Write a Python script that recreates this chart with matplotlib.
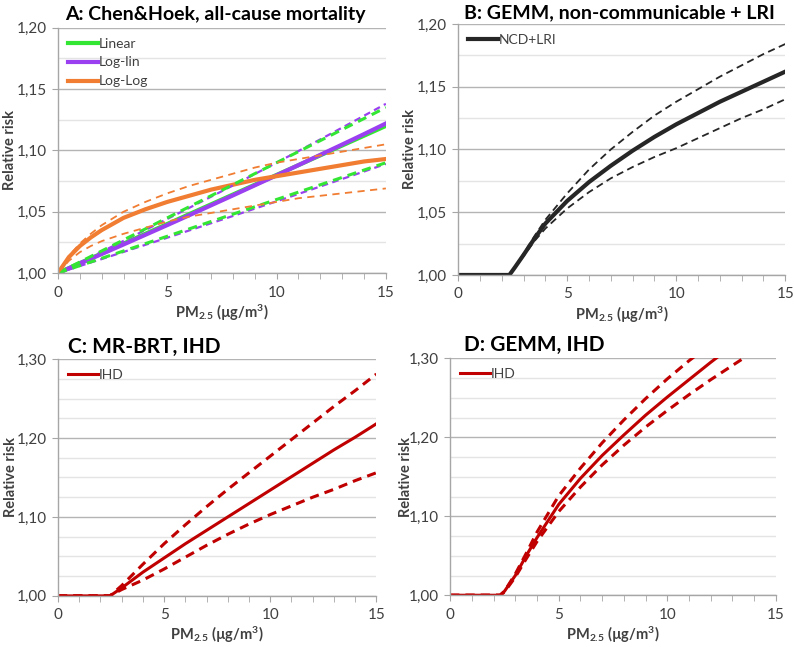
import matplotlib
matplotlib.use("Agg")
import matplotlib.pyplot as plt
import matplotlib.ticker as mticker

plt.rcParams["font.family"] = ["Lato", "DejaVu Sans"]
plt.rcParams["mathtext.fontset"] = "custom"
plt.rcParams["mathtext.rm"] = "Lato:bold"
plt.rcParams["mathtext.default"] = "rm"

# ── Panel A: Chen & Hoek, all-cause mortality ──
x_a = [0, 0.5, 1, 1.5, 2, 3, 4, 5, 6, 7, 8, 9, 10, 11, 12, 13, 14, 15]
linear = [1.000, 1.004, 1.008, 1.012, 1.016, 1.024, 1.032, 1.040, 1.048, 1.056,
          1.064, 1.072, 1.080, 1.088, 1.096, 1.104, 1.112, 1.120]
linear_hi = [1.000, 1.0045, 1.009, 1.0135, 1.018, 1.027, 1.036, 1.045, 1.054, 1.063,
             1.072, 1.081, 1.090, 1.099, 1.108, 1.117, 1.126, 1.135]
linear_lo = [1.000, 1.003, 1.006, 1.009, 1.012, 1.018, 1.024, 1.030, 1.036, 1.042,
             1.048, 1.054, 1.060, 1.066, 1.072, 1.078, 1.084, 1.090]
loglin = [1.000, 1.0038, 1.0077, 1.0116, 1.0155, 1.0233, 1.0312, 1.0391, 1.0471, 1.0552,
          1.0633, 1.0715, 1.0797, 1.0880, 1.0964, 1.1048, 1.1133, 1.122]
loglin_hi = [1.000, 1.0043, 1.0087, 1.0130, 1.0174, 1.0262, 1.0351, 1.0441, 1.0531, 1.0622,
             1.0714, 1.0807, 1.0900, 1.0995, 1.1090, 1.1186, 1.1283, 1.138]
loglin_lo = [1.000, 1.0028, 1.0057, 1.0086, 1.0114, 1.0172, 1.0230, 1.0288, 1.0347, 1.0406,
             1.0465, 1.0525, 1.0585, 1.0645, 1.0706, 1.0767, 1.0828, 1.089]
loglog = [1.000, 1.013, 1.022, 1.029, 1.035, 1.045, 1.052, 1.058, 1.063, 1.068,
          1.072, 1.076, 1.079, 1.082, 1.085, 1.088, 1.091, 1.093]
loglog_hi = [1.000, 1.014, 1.024, 1.032, 1.039, 1.050, 1.058, 1.065, 1.071, 1.076,
             1.081, 1.086, 1.090, 1.093, 1.096, 1.099, 1.102, 1.105]
loglog_lo = [1.000, 1.010, 1.017, 1.022, 1.026, 1.032, 1.037, 1.042, 1.046, 1.049,
             1.052, 1.055, 1.058, 1.061, 1.063, 1.065, 1.067, 1.069]

# ── Panel B: GEMM, NCD + LRI ──
x_b = [0, 1, 2, 2.35, 2.6, 3, 3.5, 4, 5, 6, 7, 8, 9, 10, 11, 12, 13, 14, 15]
ncd = [1.000, 1.000, 1.000, 1.000, 1.006, 1.016, 1.029, 1.041, 1.059, 1.074,
       1.087, 1.099, 1.110, 1.120, 1.129, 1.138, 1.146, 1.154, 1.162]
ncd_hi = [1.000, 1.000, 1.000, 1.000, 1.006, 1.017, 1.031, 1.044, 1.065, 1.084,
          1.100, 1.114, 1.127, 1.138, 1.148, 1.158, 1.167, 1.176, 1.184]
ncd_lo = [1.000, 1.000, 1.000, 1.000, 1.006, 1.015, 1.027, 1.037, 1.053, 1.066,
          1.077, 1.086, 1.094, 1.101, 1.109, 1.117, 1.125, 1.132, 1.140]

# ── Panel C: MR-BRT, IHD ──
x_c = [0, 1, 2, 2.45, 3, 4, 5, 6, 7, 8, 9, 10, 11, 12, 13, 14, 15]
ihd_c = [1.000, 1.000, 1.000, 1.000, 1.010, 1.030, 1.048, 1.066, 1.083, 1.100,
         1.117, 1.134, 1.151, 1.168, 1.185, 1.201, 1.218]
ihd_c_hi = [1.000, 1.000, 1.000, 1.000, 1.013, 1.040, 1.066, 1.090, 1.113, 1.135,
            1.156, 1.177, 1.198, 1.219, 1.240, 1.260, 1.281]
ihd_c_lo = [1.000, 1.000, 1.000, 1.000, 1.008, 1.020, 1.034, 1.049, 1.064, 1.078,
            1.091, 1.103, 1.114, 1.125, 1.135, 1.146, 1.156]

# ── Panel D: GEMM, IHD ──
x_d = [0, 1, 2, 2.3, 2.5, 3, 3.5, 4, 5, 6, 7, 8, 9, 10, 11, 12, 13, 14]
ihd_d = [1.000, 1.000, 1.000, 1.000, 1.005, 1.025, 1.050, 1.073, 1.115, 1.148,
         1.177, 1.203, 1.228, 1.251, 1.273, 1.295, 1.316, 1.336]
ihd_d_hi = [1.000, 1.000, 1.000, 1.000, 1.005, 1.027, 1.053, 1.080, 1.126, 1.161,
            1.193, 1.222, 1.249, 1.274, 1.297, 1.318, 1.338, 1.357]
ihd_d_lo = [1.000, 1.000, 1.000, 1.000, 1.004, 1.023, 1.046, 1.068, 1.106, 1.137,
            1.165, 1.190, 1.213, 1.234, 1.254, 1.273, 1.291, 1.309]

GREEN = "#33e633"
PURPLE = "#9b40f0"
ORANGE = "#f07d32"
RED = "#c00000"
BLACK = "#262626"
TEXT = "#404040"


def style_axis(ax, ymax, ymajor):
    ax.set_xlim(0, 15)
    ax.set_ylim(1.0, ymax)
    ax.yaxis.set_major_locator(mticker.MultipleLocator(ymajor))
    ax.yaxis.set_minor_locator(mticker.MultipleLocator(0.025))
    ax.xaxis.set_major_locator(mticker.MultipleLocator(5))
    ax.xaxis.set_minor_locator(mticker.MultipleLocator(1))
    ax.yaxis.set_major_formatter(
        mticker.FuncFormatter(lambda v, p: f"{v:.2f}".replace(".", ",")))
    ax.grid(True, which="major", axis="y", color="#b4b4b4", lw=1.0)
    ax.grid(True, which="minor", axis="y", color="#e4e4e4", lw=1.0)
    ax.set_axisbelow(True)
    for s in ["top", "right"]:
        ax.spines[s].set_visible(False)
    for s in ["left", "bottom"]:
        ax.spines[s].set_color("#a6a6a6")
        ax.spines[s].set_linewidth(1.0)
    ax.tick_params(axis="x", which="both", direction="out", length=4,
                   color="#a6a6a6", labelsize=11, labelcolor=TEXT, pad=5)
    ax.tick_params(axis="y", which="major", direction="out", length=4,
                   color="#a6a6a6", labelsize=11, labelcolor=TEXT, pad=4)
    ax.tick_params(axis="y", which="minor", length=0)
    ax.set_xlabel("PM$_{2.5}$ (µg/m$^{3}$)", fontsize=10.5, fontweight="bold",
                  color=TEXT, labelpad=2)
    ax.set_ylabel("Relative risk", fontsize=10.5, fontweight="bold", color=TEXT)


def add_legend(ax):
    ax.legend(loc="upper left", frameon=False, fontsize=10, handlelength=2.2,
              handletextpad=0.05, labelspacing=0.5, borderaxespad=0.3,
              labelcolor=TEXT)


fig = plt.figure(figsize=(7.94, 6.47), dpi=100)

# ── A ──
ax_a = fig.add_axes([0.073, 0.578, 0.413, 0.379])
ax_a.plot(x_a, linear, color=GREEN, lw=3, label="Linear")
ax_a.plot(x_a, loglin, color=PURPLE, lw=3, label="Log-lin")
ax_a.plot(x_a, loglog, color=ORANGE, lw=3, label="Log-Log")
ax_a.plot(x_a, loglin_hi, color=PURPLE, lw=1.6, ls=(0, (3, 2)))
ax_a.plot(x_a, loglin_lo, color=PURPLE, lw=1.6, ls=(0, (3, 2)))
ax_a.plot(x_a, linear_hi, color=GREEN, lw=2.2, ls=(0, (3, 2)))
ax_a.plot(x_a, linear_lo, color=GREEN, lw=2.2, ls=(0, (3, 2)))
ax_a.plot(x_a, loglog_hi, color=ORANGE, lw=1.3, ls=(0, (4, 3)))
ax_a.plot(x_a, loglog_lo, color=ORANGE, lw=1.3, ls=(0, (4, 3)))
style_axis(ax_a, 1.20, 0.05)
add_legend(ax_a)
ax_a.yaxis.set_label_coords(-0.125, 0.5)
fig.text(0.082, 0.977, "A: Chen&Hoek, all-cause mortality", fontsize=14,
         fontweight="bold", va="center", ha="left", color="black")

# ── B ──
ax_b = fig.add_axes([0.577, 0.575, 0.412, 0.388])
ax_b.plot(x_b, ncd, color=BLACK, lw=3, label="NCD+LRI")
ax_b.plot(x_b, ncd_hi, color=BLACK, lw=1.3, ls=(0, (4, 2.5)))
ax_b.plot(x_b, ncd_lo, color=BLACK, lw=1.3, ls=(0, (4, 2.5)))
style_axis(ax_b, 1.20, 0.05)
add_legend(ax_b)
ax_b.yaxis.set_label_coords(-0.125, 0.5)
fig.text(0.585, 0.981, "B: GEMM, non-communicable + LRI", fontsize=14,
         fontweight="bold", va="center", ha="left", color="black")

# ── C ──
ax_c = fig.add_axes([0.073, 0.079, 0.401, 0.366])
ax_c.plot(x_c, ihd_c, color=RED, lw=2.2, label="IHD")
ax_c.plot(x_c, ihd_c_hi, color=RED, lw=2.2, ls=(0, (3, 2)))
ax_c.plot(x_c, ihd_c_lo, color=RED, lw=2.2, ls=(0, (3, 2)))
style_axis(ax_c, 1.30, 0.10)
add_legend(ax_c)
ax_c.yaxis.set_label_coords(-0.125, 0.5)
fig.text(0.086, 0.464, "C: MR-BRT, IHD", fontsize=15,
         fontweight="bold", va="center", ha="left", color="black")

# ── D ──
ax_d = fig.add_axes([0.567, 0.080, 0.410, 0.366])
ax_d.plot(x_d, ihd_d, color=RED, lw=2.2, label="IHD")
ax_d.plot(x_d, ihd_d_hi, color=RED, lw=2.2, ls=(0, (3, 2)))
ax_d.plot(x_d, ihd_d_lo, color=RED, lw=2.2, ls=(0, (3, 2)))
style_axis(ax_d, 1.30, 0.10)
add_legend(ax_d)
ax_d.yaxis.set_label_coords(-0.115, 0.5)
fig.text(0.585, 0.467, "D: GEMM, IHD", fontsize=15,
         fontweight="bold", va="center", ha="left", color="black")

fig.savefig("out.png", dpi=100)
